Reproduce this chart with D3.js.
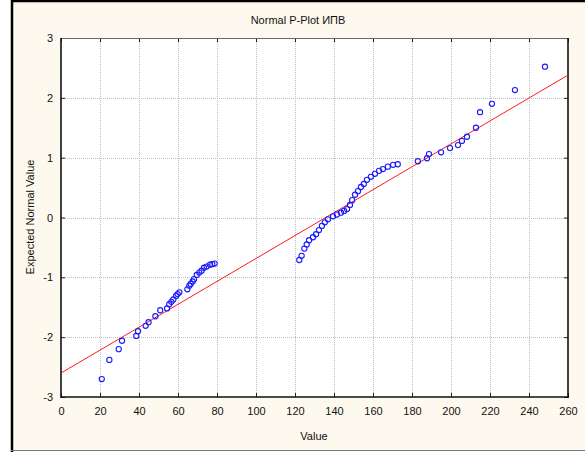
<!DOCTYPE html>
<html>
<head>
<meta charset="utf-8">
<script src="https://cdn.jsdelivr.net/npm/d3@7"></script>
<style>
html,body{margin:0;padding:0;background:#fff;}
svg{display:block;}
text{font-family:"Liberation Sans",Arial,sans-serif;}
</style>
</head>
<body>
<svg id="chart" width="585" height="452"></svg>
<script>
// Data
const xValues = [20.9,24.8,29.6,31.3,38.6,39.5,43.4,44.9,48.4,50.9,54.4,55.5,56.6,57.6,59,59.8,60.7,
  64.8,65.8,66.5,67.5,68.2,69.6,70.9,72.1,73.3,74.7,76.4,77.6,78.8,
  122.2,123.4,124.8,126,127.2,129.2,130.8,132.3,133.8,135.3,136.9,139.5,141.5,143.6,145.2,146.7,148.2,149.3,150.8,152.3,153.8,155.3,156.9,158.9,161,163.1,165.1,167.6,170.3,172.7,
  183,187.7,188.7,194.9,199.5,203.6,205.6,208.2,212.8,214.9,221,232.8,248.2];
const yValues = [-2.70,-2.38,-2.20,-2.06,-1.98,-1.90,-1.81,-1.75,-1.65,-1.55,-1.52,-1.45,-1.41,-1.37,-1.31,-1.28,-1.25,
  -1.20,-1.14,-1.11,-1.07,-1.03,-0.96,-0.92,-0.89,-0.84,-0.82,-0.79,-0.78,-0.77,
  -0.71,-0.64,-0.52,-0.45,-0.38,-0.33,-0.28,-0.21,-0.14,-0.08,-0.03,0.02,0.05,0.08,0.11,0.14,0.21,0.29,0.38,0.44,0.51,0.56,0.63,0.68,0.73,0.78,0.81,0.85,0.88,0.89,
  0.94,0.99,1.06,1.09,1.16,1.21,1.28,1.35,1.50,1.76,1.90,2.13,2.52];
const lineX = [0, 260];
const lineY = [-2.60, 2.38];
const xTicks = [0,20,40,60,80,100,120,140,160,180,200,220,240,260];
const yTicks = [-3,-2,-1,0,1,2,3];
const titleText = "Normal P-Plot ИПВ";
const xLabel = "Value";
const yLabel = "Expected Normal Value";

const svg = d3.select("#chart");
const W = 585, H = 452;
const L = 61, R = 568, T = 38, B = 397;

// outer frame
svg.append("rect").attr("x",12).attr("y",1).attr("width",W-12).attr("height",H-2).attr("fill","#fef9ee");
svg.append("line").attr("x1",12).attr("x2",12).attr("y1",0).attr("y2",H).attr("stroke","#000").attr("stroke-width",2.5);
svg.append("line").attr("x1",11).attr("x2",W).attr("y1",1).attr("y2",1).attr("stroke","#000").attr("stroke-width",2.5);
svg.append("line").attr("x1",11).attr("x2",W).attr("y1",450.5).attr("y2",450.5).attr("stroke","#777").attr("stroke-width",1);

const x = d3.scaleLinear().domain([0,260]).range([L,R]);
const y = d3.scaleLinear().domain([-3,3]).range([B,T]);

svg.append("rect").attr("x",L).attr("y",T).attr("width",R-L).attr("height",B-T).attr("fill","#fff");

// grid
const g = svg.append("g");
g.selectAll(".gx").data(xTicks.slice(1,-1)).enter().append("line")
  .attr("x1",d=>Math.round(x(d))+0.5).attr("x2",d=>Math.round(x(d))+0.5).attr("y1",T).attr("y2",B)
  .attr("stroke","#bdbdbd").attr("stroke-dasharray","1,1");
g.selectAll(".gy").data(yTicks.slice(1,-1)).enter().append("line")
  .attr("y1",d=>Math.round(y(d))+0.5).attr("y2",d=>Math.round(y(d))+0.5).attr("x1",L).attr("x2",R)
  .attr("stroke","#bdbdbd").attr("stroke-dasharray","1,1");

const fmt = d => String(d);
// axes with inward ticks
const axB = svg.append("g").attr("transform",`translate(0,${B})`).call(d3.axisBottom(x).tickValues(xTicks).tickFormat(fmt).tickSizeInner(-4).tickSizeOuter(0).tickPadding(10));
const axT = svg.append("g").attr("transform",`translate(0,${T})`).call(d3.axisTop(x).tickValues(xTicks).tickSizeInner(-4).tickSizeOuter(0).tickFormat(""));
const axL = svg.append("g").attr("transform",`translate(${L},0)`).call(d3.axisLeft(y).tickValues(yTicks).tickFormat(fmt).tickSizeInner(-4).tickSizeOuter(0).tickPadding(8));
const axR = svg.append("g").attr("transform",`translate(${R},0)`).call(d3.axisRight(y).tickValues(yTicks).tickSizeInner(-4).tickSizeOuter(0).tickFormat(""));
[axB,axT,axL,axR].forEach(a=>{
  a.select(".domain").remove();
  a.selectAll("line").attr("stroke","#222");
  a.selectAll("text").attr("font-size","11px").attr("fill","#111").attr("font-family","Liberation Sans, Arial, sans-serif");
});

// plot frame
svg.append("line").attr("x1",L).attr("x2",R).attr("y1",T+0.5).attr("y2",T+0.5).attr("stroke","#666").attr("stroke-width",1);
svg.append("line").attr("x1",L).attr("x2",L).attr("y1",T).attr("y2",B+1).attr("stroke","#111").attr("stroke-width",1.6);
svg.append("line").attr("x1",L).attr("x2",R+1).attr("y1",B).attr("y2",B).attr("stroke","#111").attr("stroke-width",1.6);
svg.append("line").attr("x1",R).attr("x2",R).attr("y1",T).attr("y2",B+1).attr("stroke","#111").attr("stroke-width",1.6);

// clip
svg.append("clipPath").attr("id","clip").append("rect").attr("x",L).attr("y",T).attr("width",R-L).attr("height",B-T);

// fitted line
svg.append("line").attr("clip-path","url(#clip)")
  .attr("x1",x(lineX[0])).attr("y1",y(lineY[0])).attr("x2",x(lineX[1])).attr("y2",y(lineY[1]))
  .attr("stroke","#ff1a1a").attr("stroke-width",1);

// points
const pts = xValues.map((v,i)=>({x:v,y:yValues[i]}));
svg.append("g").selectAll("circle").data(pts).enter().append("circle")
  .attr("cx",d=>x(d.x)).attr("cy",d=>y(d.y)).attr("r",2.6)
  .attr("fill","none").attr("stroke","#1a1aff").attr("stroke-width",1.1);

// texts
svg.append("text").attr("x",298).attr("y",24).attr("text-anchor","middle").attr("font-size","11px").attr("fill","#111").text(titleText);
svg.append("text").attr("x",314).attr("y",440).attr("text-anchor","middle").attr("font-size","11px").attr("fill","#111").text(xLabel);
svg.append("text").attr("transform","translate(34,217) rotate(-90)").attr("text-anchor","middle").attr("font-size","11px").attr("fill","#111").text(yLabel);
</script>
</body>
</html>
